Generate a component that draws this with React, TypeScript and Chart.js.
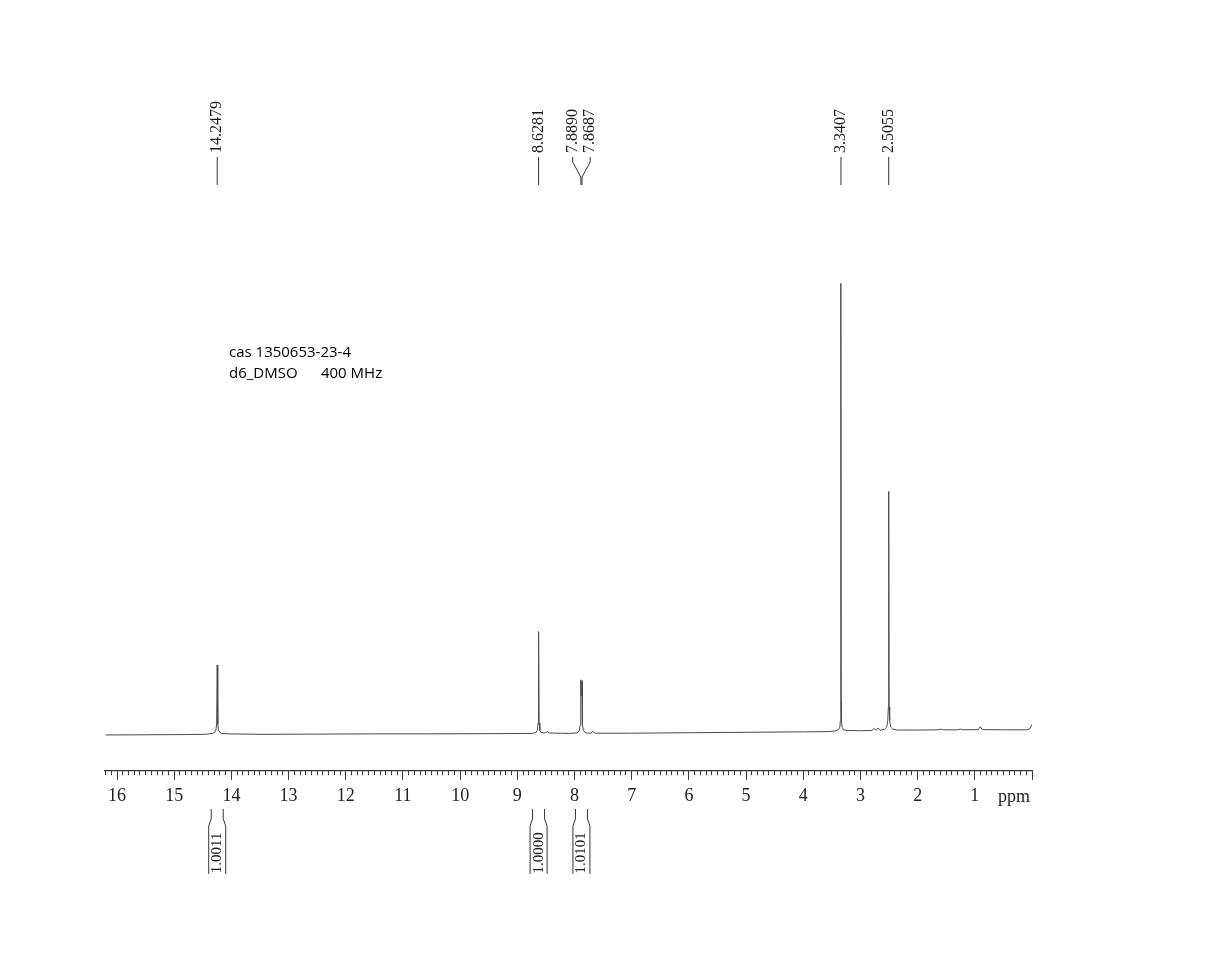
import React, { useEffect, useRef } from 'react';
import { Chart, registerables } from 'chart.js';

Chart.register(...registerables);

// ---- Spectrum data (chemical shift in ppm, relative intensity in %) ----
const spectrumPpm = [
  16.2, 15.5, 14.8, 14.45, 14.33, 14.29, 14.27, 14.258, 14.2479, 14.238, 14.226, 14.206, 14.17, 14.05,
  13.5, 12.5, 11.5, 10.5, 9.5, 8.75, 8.67, 8.65, 8.638, 8.6281, 8.618, 8.606, 8.585, 8.52, 8.47, 8.44,
  8.1, 7.96, 7.915, 7.9, 7.893, 7.889, 7.884, 7.879, 7.874, 7.8687, 7.865, 7.858, 7.843, 7.8, 7.72, 7.68, 7.64,
  7.0, 6.0, 5.0, 4.0, 3.55, 3.45, 3.385, 3.36, 3.35, 3.345, 3.3407, 3.336, 3.331, 3.321, 3.296, 3.23, 3.0,
  2.8, 2.76, 2.73, 2.69, 2.66, 2.58, 2.54, 2.522, 2.512, 2.5055, 2.499, 2.489, 2.471, 2.43, 2.35, 2.0,
  1.65, 1.6, 1.55, 1.3, 1.25, 1.2, 0.94, 0.905, 0.87, 0.5, 0.1, 0.04, 0.02, 0.0,
];
const spectrumIntensity = [
  -0.25, -0.2, -0.15, -0.1, 0.1, 0.35, 0.9, 2.2, 15.3, 2.2, 0.9, 0.35, 0.1, 0,
  -0.1, -0.05, 0, 0, 0.05, 0.1, 0.3, 0.8, 2.4, 22.7, 2.4, 0.8, 0.3, 0.2, 0.45, 0.2,
  0.1, 0.2, 0.7, 2.0, 5, 12.0, 9.5, 8.5, 9.5, 11.8, 5, 2.0, 0.7, 0.2, 0.15, 0.5, 0.15,
  0.15, 0.25, 0.35, 0.45, 0.5, 0.65, 0.9, 1.5, 3.0, 7, 100, 7, 3.0, 1.5, 0.9, 0.75, 0.7,
  0.75, 1.2, 0.8, 1.3, 0.8, 1.0, 1.5, 3.0, 6, 53.8, 6, 3.0, 1.5, 1.0, 0.85, 0.85,
  0.9, 1.05, 0.9, 0.9, 1.05, 0.9, 0.95, 1.6, 0.95, 0.9, 0.9, 1.1, 1.6, 2.1,
];

// ---- Peak picking labels ----
const peakPositions = [14.2479, 8.6281, 7.889, 7.8687, 3.3407, 2.5055];
const peakLabels = ['14.2479', '8.6281', '7.8890', '7.8687', '3.3407', '2.5055'];

// ---- Integrals ----
const integralCenters = [14.2479, 8.6281, 7.8788];
const integralValues = ['1.0011', '1.0000', '1.0101'];

// ---- Axis & annotation text ----
const axisMin = 0;
const axisMax = 16.21;
const axisUnit = 'ppm';
const sampleLines = ['cas 1350653-23-4', 'd6_DMSO      400 MHz'];

const SERIF = '"Liberation Serif", "Times New Roman", serif';

const isMajor = (v: number | undefined) =>
  typeof v === 'number' && Math.abs(v - Math.round(v)) < 1e-6;

function spreadLabels(pixels: number[], minGap: number): number[] {
  const idx = pixels.map((p, i) => i).sort((a, b) => pixels[a] - pixels[b]);
  const out = pixels.slice();
  let i = 0;
  while (i < idx.length) {
    let j = i;
    while (j + 1 < idx.length && pixels[idx[j + 1]] - pixels[idx[j]] < minGap) j++;
    const n = j - i + 1;
    if (n > 1) {
      let sum = 0;
      for (let k = i; k <= j; k++) sum += pixels[idx[k]];
      const c = sum / n;
      for (let k = i; k <= j; k++) out[idx[k]] = c + (k - i - (n - 1) / 2) * minGap;
    }
    i = j + 1;
  }
  return out;
}

const nmrAnnotations = {
  id: 'nmrAnnotations',
  afterDraw(chart: any) {
    const { ctx, chartArea, scales } = chart;
    const xs = scales.x;
    ctx.save();
    ctx.strokeStyle = '#333';
    ctx.fillStyle = '#1a1a1a';
    ctx.lineWidth = 1;

    // Peak labels on top
    const pix = peakPositions.map((p) => xs.getPixelForValue(p));
    const lx = spreadLabels(pix, 17.5);
    const textBottom = chartArea.top + 93;
    const lineTop = chartArea.top + 97;
    const kneeTop = chartArea.top + 102;
    const kneeBottom = chartArea.top + 117;
    const lineBottom = chartArea.top + 125;
    ctx.font = `16px ${SERIF}`;
    peakLabels.forEach((label, i) => {
      ctx.save();
      ctx.translate(lx[i], textBottom);
      ctx.rotate(-Math.PI / 2);
      ctx.textAlign = 'left';
      ctx.textBaseline = 'middle';
      ctx.fillText(label, 0, 0);
      ctx.restore();
      ctx.beginPath();
      if (Math.abs(lx[i] - pix[i]) < 0.5) {
        ctx.moveTo(pix[i], lineTop);
        ctx.lineTo(pix[i], lineBottom);
      } else {
        ctx.moveTo(lx[i], lineTop);
        ctx.lineTo(lx[i], kneeTop);
        ctx.lineTo(pix[i], kneeBottom);
        ctx.lineTo(pix[i], lineBottom);
      }
      ctx.stroke();
    });

    // Integrals below the axis
    const bTop = chartArea.bottom + 38;
    const bBend1 = chartArea.bottom + 48;
    const bBend2 = chartArea.bottom + 55;
    const bBottom = chartArea.bottom + 103;
    ctx.font = `15px ${SERIF}`;
    integralCenters.forEach((c, i) => {
      const cx = xs.getPixelForValue(c);
      for (const s of [-1, 1]) {
        ctx.beginPath();
        ctx.moveTo(cx + s * 6, bTop);
        ctx.lineTo(cx + s * 6, bBend1);
        ctx.lineTo(cx + s * 8.5, bBend2);
        ctx.lineTo(cx + s * 8.5, bBottom);
        ctx.stroke();
      }
      ctx.save();
      ctx.translate(cx, chartArea.bottom + 82);
      ctx.rotate(-Math.PI / 2);
      ctx.textAlign = 'center';
      ctx.textBaseline = 'middle';
      ctx.fillText(integralValues[i], 0, 0);
      ctx.restore();
    });

    // Axis unit
    ctx.font = `18px ${SERIF}`;
    ctx.textAlign = 'right';
    ctx.textBaseline = 'middle';
    ctx.fillText(axisUnit, chartArea.right - 2, chartArea.bottom + 26);

    // Sample annotation
    ctx.fillStyle = '#000';
    ctx.font = '15px "Open Sans", sans-serif';
    ctx.textAlign = 'left';
    ctx.textBaseline = 'alphabetic';
    sampleLines.forEach((t, i) => {
      ctx.fillText(t, chartArea.left + 124, chartArea.top + 297 + i * 21);
    });
    ctx.restore();
  },
};

export default function App() {
  const canvasRef = useRef<HTMLCanvasElement | null>(null);

  useEffect(() => {
    const canvas = canvasRef.current;
    if (!canvas) return;
    const chart = new Chart(canvas, {
      type: 'line',
      data: {
        datasets: [
          {
            label: '1H NMR',
            data: spectrumPpm.map((p, i) => ({ x: p, y: spectrumIntensity[i] })),
            borderColor: '#4a4a4a',
            borderWidth: 1,
            pointRadius: 0,
            tension: 0,
            fill: false,
          },
        ],
      },
      options: {
        responsive: false,
        animation: false,
        layout: { padding: { top: 60, left: 105, right: 178, bottom: 139.5 } },
        plugins: { legend: { display: false }, tooltip: { enabled: false } },
        scales: {
          x: {
            type: 'linear',
            min: axisMin,
            max: axisMax,
            reverse: true,
            bounds: 'data',
            border: { display: true, color: '#333', width: 1.2 },
            grid: {
              display: true,
              drawOnChartArea: false,
              drawTicks: true,
              tickLength: 9,
              tickColor: '#333',
              tickWidth: 1,
              tickBorderDash: (ctx: any) => (isMajor(ctx.tick?.value) ? [] : [4, 40]),
            },
            ticks: {
              stepSize: 0.1,
              autoSkip: false,
              maxRotation: 0,
              minRotation: 0,
              includeBounds: false,
              padding: 6,
              color: '#222',
              font: { family: SERIF, size: 18 },
              callback: (v: any) => (isMajor(Number(v)) && Number(v) > 0 ? String(Math.round(Number(v))) : ''),
            },
          },
          y: {
            display: false,
            min: -8.22,
            max: 149.6,
          },
        },
      },
      plugins: [nmrAnnotations],
    } as any);
    return () => chart.destroy();
  }, []);

  return (
    <div style={{ position: 'absolute', left: 0, top: 0, width: 1210, height: 953, background: '#fff' }}>
      <canvas ref={canvasRef} width={1210} height={953} style={{ display: 'block' }} />
    </div>
  );
}
